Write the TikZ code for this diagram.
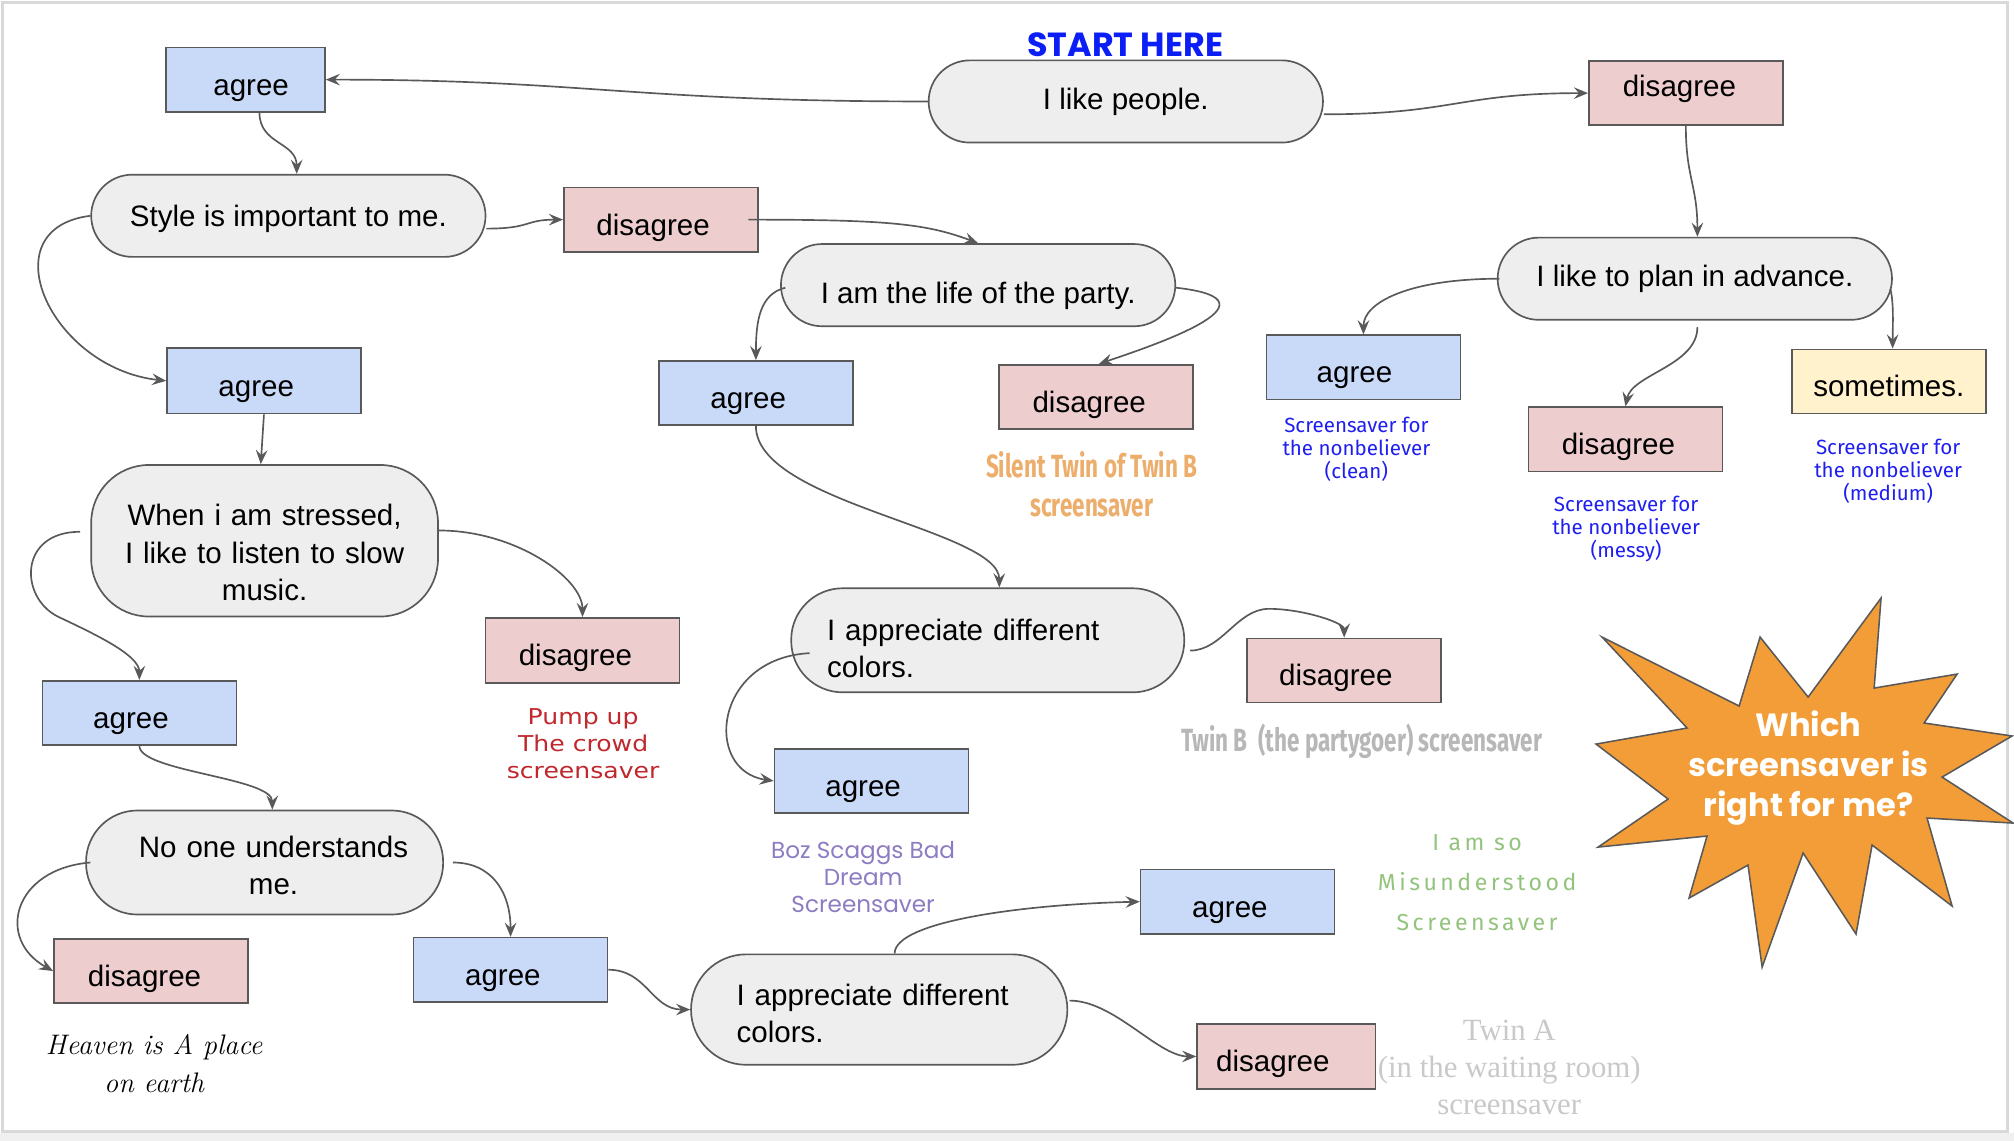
\documentclass[tikz,border=0pt]{standalone}
\usepackage{fontspec}
\usetikzlibrary{arrows.meta,calc}
\newfontfamily\arial{Liberation Sans}
\newfontfamily\popp{Poppins}
\newfontfamily\fira{Fira Sans}
\newfontfamily\firaspaced{Fira Sans}[LetterSpace=15]
\newfontfamily\firanarrow{Fira Sans}[FakeStretch=0.7]
\newfontfamily\dejavuwide{DejaVu Sans}[FakeStretch=1.15]
\newfontfamily\libserif{Liberation Serif}
\newcommand{\lift}[1]{\rule{0pt}{#1}}
\newcommand{\tshiftamt}{-12pt}
\definecolor{agreeC}{HTML}{C9DAF8}
\definecolor{disC}{HTML}{EDCDCD}
\definecolor{someC}{HTML}{FFF2CC}
\definecolor{pillC}{HTML}{EEEEEE}
\definecolor{lineC}{HTML}{595959}
\definecolor{startC}{HTML}{0A1EF5}
\definecolor{orangeT}{HTML}{EDAD6B}
\definecolor{blueT}{HTML}{1F1FF0}
\definecolor{redT}{HTML}{C0282D}
\definecolor{purpleT}{HTML}{8E7CC3}
\definecolor{greyT}{HTML}{B7B7B7}
\definecolor{greenT}{HTML}{93C47D}
\definecolor{lightgreyT}{HTML}{C9C9C9}
\definecolor{starC}{HTML}{F29D38}
\tikzset{
  tshift/.code={\def\tshiftamt{#1}},
  box/.style={draw=lineC, line width=1.3pt, minimum width=151pt, minimum height=50pt, inner sep=0pt, text height=24pt, text depth=0pt, tshift=-12pt, execute at begin node={\hspace*{\tshiftamt}}, font=\arial\fontsize{23}{27}\selectfont},
  agreebox/.style={box, fill=agreeC},
  disbox/.style={box, fill=disC},
  somebox/.style={box, fill=someC},
  pill/.style={draw=lineC, line width=1.3pt, fill=pillC, rounded corners=32pt, minimum height=64pt, minimum width=307pt, inner sep=0pt, align=center, font=\arial\fontsize{23}{29}\selectfont},
  conn/.style={draw=lineC, line width=1.3pt, -{Stealth[length=11pt,width=9pt,inset=4pt]}},
  anno/.style={align=center, inner sep=0pt}
}
\begin{document}
\begin{tikzpicture}[x=1pt,y=-1pt]
\useasboundingbox (0,0) rectangle (1568,888);
\fill[white] (0,0) rectangle (1568,888);
\fill[black!6] (0,882) rectangle (1568,888);
\draw[black!15, line width=2pt] (2,2) rectangle (1563,881);

% star
\filldraw[fill=starC, draw=lineC, line width=1.2pt]
 (1247.3,496.0) -- (1354.0,549.7) -- (1370.3,496.0) -- (1407.7,542.7) -- (1464.5,465.6) -- (1459.1,535.7)
 -- (1523.7,524.8) -- (1498.0,562.9) -- (1566.5,573.0) -- (1512.0,605.0) -- (1567.3,640.8) -- (1500.3,636.9)
 -- (1519.8,705.4) -- (1457.5,657.9) -- (1445.0,727.2) -- (1403.8,664.1) -- (1371.9,752.9) -- (1360.9,673.5)
 -- (1315.0,699.2) -- (1329.0,650.9) -- (1244.2,659.5) -- (1298.7,622.1) -- (1242.6,579.3) -- (1313.5,566.8) -- cycle;
\node[anno, text=white, font=\popp\bfseries\fontsize{25}{31}\selectfont] (star) at (1408,598) {Which\\screensaver is\\right for me?};

% title
\node[anno, text=startC, font=\popp\bfseries\fontsize{26}{30}\selectfont] (start) at (876,35) {START HERE};

% question pills
\node[pill] (p1) at (876.5,79) {I like people.};
\node[pill] (p2) at (224.5,168) {\lift{21pt}Style is important to me.};
\node[pill] (p3) at (761.5,222) {\lift{34pt}I am the life of the party.};
\node[pill] (p4) at (1319.5,217) {I like to plan in advance.};
\node[pill, rounded corners=45pt, minimum width=270pt, minimum height=118pt, text width=244pt, inner xsep=13pt] (p5) at (206,421) {\lift{35pt}When i am stressed,\\ I like to listen to slow\\ music.};
\node[pill, rounded corners=40pt, minimum width=306pt, minimum height=81pt, text width=250pt, inner xsep=28pt, align=left] (p6) at (769,498.5) {\lift{29pt}I appreciate different\\ colors.};
\node[pill, rounded corners=40pt, minimum width=278pt, minimum height=81pt, text width=240pt, inner xsep=19pt] (p7) at (206,671.5) {\lift{21pt}\hspace*{14pt}No one understands\\ \hspace*{14pt}me.};
\node[pill, rounded corners=43pt, minimum width=293pt, minimum height=86pt, text width=222pt, inner xsep=35.5pt, align=left] (p8) at (684.5,786) {\lift{23pt}I appreciate different\\ colors.};

% answer boxes
\node[agreebox, minimum width=124pt, tshift=9pt] (a1) at (191,62) {agree};
\node[disbox, tshift=-10pt, text height=6pt] (d1) at (1312.5,72.5) {disagree};
\node[disbox, tshift=-12pt] (d2) at (514.5,171) {disagree};
\node[agreebox, minimum height=51pt, tshift=-12pt] (a2) at (205.5,296.5) {agree};
\node[agreebox, tshift=-12pt] (a3) at (588.5,306) {agree};
\node[disbox, tshift=-11pt] (d3) at (853.5,309) {disagree};
\node[agreebox, tshift=-14pt] (a4) at (1061.5,286) {agree};
\node[disbox, tshift=-11pt] (d4) at (1265.5,342) {disagree};
\node[somebox, tshift=0pt] (s) at (1470.5,297) {sometimes.};
\node[disbox, minimum height=51pt, tshift=-11pt] (d5) at (453.5,506.5) {disagree};
\node[disbox, tshift=-13pt] (d6) at (1046.5,522) {disagree};
\node[agreebox, tshift=-13pt] (a5) at (108.5,555) {agree};
\node[agreebox, tshift=-13pt] (a6) at (678.5,608) {agree};
\node[agreebox, tshift=-12pt] (a7) at (963.5,702) {agree};
\node[disbox, tshift=-10pt] (d7) at (117.5,756) {disagree};
\node[agreebox, tshift=-12pt] (a8) at (397.5,755) {agree};
\node[disbox, minimum width=139pt, minimum height=51pt, tshift=-21pt] (d8) at (1001.5,822.5) {disagree};

% result annotations
\node[anno, text=orangeT, font=\firanarrow\bfseries\fontsize{25}{30}\selectfont] (tsilent) at (850,377) {Silent Twin of Twin B\\screensaver};
\node[anno, text=blueT, font=\fira\fontsize{16}{18}\selectfont] (tclean) at (1056,350) {Screensaver for\\the nonbeliever\\(clean)};
\node[anno, text=blueT, font=\fira\fontsize{16}{18}\selectfont] (tmessy) at (1266,412) {Screensaver for\\the nonbeliever\\(messy)};
\node[anno, text=blueT, font=\fira\fontsize{16}{18}\selectfont] (tmedium) at (1470,367) {Screensaver for\\the nonbeliever\\(medium)};
\node[anno, text=redT, font=\dejavuwide\fontsize{17}{21}\selectfont] (tpump) at (454,579) {Pump up\\The crowd\\screensaver};
\node[anno, text=greyT, font=\firanarrow\bfseries\fontsize{25}{28}\selectfont] (ttwinb) at (1060,577) {Twin B\ \ (the partygoer) screensaver};
\node[anno, text=purpleT, font=\popp\fontsize{18}{21}\selectfont] (tboz) at (672,683) {Boz Scaggs Bad\\Dream\\Screensaver};
\node[anno, text=greenT, font=\firaspaced\fontsize{18}{31}\selectfont] (tmis) at (1150,687) {I am so\\Misunderstood\\Screensaver};
\node[anno, text=lightgreyT, font=\libserif\fontsize{24}{29}\selectfont] (ttwina) at (1175,831) {Twin A\\(in the waiting room)\\screensaver};
\node[anno, text=black, font=\itshape\fontsize{22}{30}\selectfont] (theaven) at (120,828) {Heaven is A place\\on earth};

% connectors
\draw[conn] (p1.west) .. controls +(-230,0) and +(200,0) .. (a1.east);
\draw[conn] ($(p1.east)+(0,10)$) .. controls +(100,0) and +(-100,0) .. (d1.west);
\draw[conn] ($(a1.south)+(11,0)$) .. controls +(0,25) and +(0,-25) .. ($(p2.north)+(6.5,0)$);
\draw[conn] ($(p2.east)+(0,10)$) .. controls +(35,0) and +(-30,0) .. (d2.west);
\draw[conn] (p2.west) .. controls +(-80,10) and +(-90,-10) .. (a2.west);
\draw[conn] ($(d2.east)+(-8,0)$) .. controls +(110,0) and +(-40,-15) .. (p3.north);
\draw[conn] ($(p3.west)+(4,2)$) .. controls +(-20,5) and +(0,-30) .. (a3.north);
\draw[conn] ($(p3.east)+(0,2)$) .. controls +(90,10) and +(35,-12) .. ($(d3.north)+(2,0)$);
\draw[conn] (d1.south) .. controls +(0,40) and +(0,-40) .. ($(p4.north)+(2,0)$);
\draw[conn] ($(p4.west)+(2,0)$) .. controls +(-70,0) and +(0,-25) .. (a4.north);
\draw[conn] ($(p4.south)+(2,5)$) .. controls +(0,30) and +(5,-25) .. (d4.north);
\draw[conn] ($(p4.east)+(-2,8)$) .. controls +(3,10) and +(0,-15) .. ($(s.north)+(3,0)$);
\draw[conn] (a2.south) -- ($(p5.north)+(-3,0)$);
\draw[conn] ($(p5.west)+(-8,-7)$) .. controls +(-48,0) and +(-30,-15) .. (45,480) .. controls +(25,12) and +(0,-20) .. (a5.north);
\draw[conn] ($(p5.east)+(0,-8)$) .. controls +(60,0) and +(0,-30) .. (d5.north);
\draw[conn] (a3.south) .. controls +(0,60) and +(0,-45) .. ($(p6.north)+(9,0)$);
\draw[conn] ($(p6.west)+(15,10)$) .. controls +(-75,4) and +(-55,-8) .. (a6.west);
\draw[conn] ($(p6.east)+(4,8)$) .. controls +(25,0) and +(-25,0) .. (988,474) .. controls +(25,0) and +(0,-12) .. (d6.north);
\draw[conn] (a5.south) .. controls +(0,20) and +(0,-25) .. ($(p7.north)+(6,0)$);
\draw[conn] ($(p7.west)+(4,0)$) .. controls +(-60,5) and +(-45,-25) .. (d7.west);
\draw[conn] ($(p7.east)+(7,0)$) .. controls +(30,0) and +(0,-35) .. (a8.north);
\draw[conn] (a8.east) .. controls +(30,0) and +(-30,0) .. (p8.west);
\draw[conn] ($(p8.north)+(12,0)$) .. controls +(0,-25) and +(-90,2) .. (a7.west);
\draw[conn] ($(p8.east)+(1,-7)$) .. controls +(35,0) and +(-30,0) .. (d8.west);
\end{tikzpicture}
\end{document}
